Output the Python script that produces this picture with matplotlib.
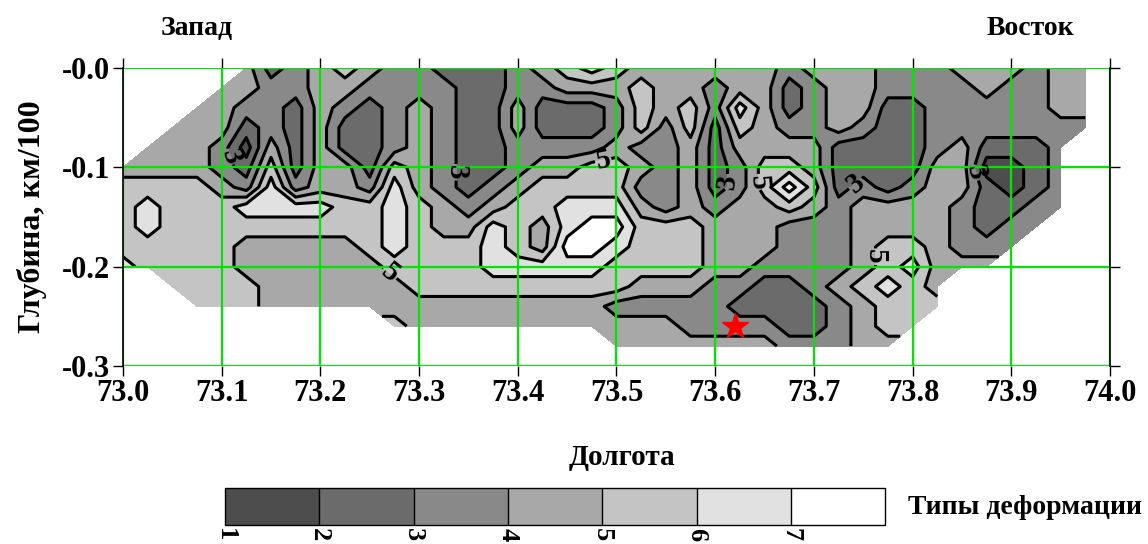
import numpy as np
import matplotlib
matplotlib.use("Agg")
import matplotlib.pyplot as plt

plt.rcParams['font.family'] = ['Liberation Serif', 'DejaVu Serif']
plt.rcParams['font.weight'] = 'bold'
plt.rcParams['axes.labelweight'] = 'bold'

# ---- grid nodes -------------------------------------------------------
lon = np.round(np.arange(73.0, 74.0001, 0.025), 3)      # 41 columns
depth = np.round(np.arange(0.0, -0.3001, -0.02), 3)     # 16 rows

# deformation type at every node ('.' = no data), read off the section
type_rows = [
    ".....42345433222345654444443444333444344.",
    "....443344333322334445443442344333343344.",
    "...4433243234322422235453642344223333344.",
    "..44423242234322422235352543343223333333.",
    ".44431424223432233334334244442222342223..",
    "444432524425432234455434235542222441123..",
    "555543634436432345555334235752323442123..",
    "565556666556543455666434344543444432233..",
    "56555555555654465467755544433344443233...",
    "5555544444565556547765554443334554333....",
    "655554444445555666665555443333456444.....",
    "..55554444445555555554443322345654.......",
    "...5554444444444444433333222234555.......",
    "...........5444444444443333223455........",
    "....................444444433344.........",
    ".........................................",
]

levels = [0.5, 1.5, 2.5, 3.5, 4.5, 5.5, 6.5, 7.5]
plain_levels = [1.5, 3.5, 5.5, 6.5]      # boundaries drawn without labels
labelled_levels = [2.5, 4.5]             # boundaries "3" and "5"
grays = ['#4d4d4d', '#6b6b6b', '#898989', '#a8a8a8', '#c4c4c4', '#e1e1e1', '#ffffff']
cb_ticks = [0.5, 1.5, 2.5, 3.5, 4.5, 5.5, 6.5]
cb_labels = ['1', '2', '3', '4', '5', '6', '7']
line_labels = {2.5: '3', 4.5: '5'}
# where the "3" / "5" line labels sit (lon, depth)
label_spots = [(73.09, -0.095), (73.335, -0.105), (73.49, -0.11), (73.615, -0.115),
               (73.645, -0.115), (73.745, -0.12), (73.865, -0.105), (73.755, -0.19),
               (73.28, -0.195)]

x_ticks = [73.0, 73.1, 73.2, 73.3, 73.4, 73.5, 73.6, 73.7, 73.8, 73.9, 74.0]
x_labels = ['73.0', '73.1', '73.2', '73.3', '73.4', '73.5', '73.6', '73.7', '73.8', '73.9', '74.0']
y_ticks = [0.0, -0.1, -0.2, -0.3]
y_labels = ['-0.0', '-0.1', '-0.2', '-0.3']

star_lon, star_depth = 73.62, -0.26

# ---- table ------------------------------------------------------------
for r in type_rows:
    assert len(r) == len(lon), (len(r), r)
Z = np.array([[np.nan if ch == '.' else float(ch) for ch in row] for row in type_rows])
Z = np.ma.masked_invalid(Z)

# ---- figure -----------------------------------------------------------
fig = plt.figure(figsize=(11.48, 5.44), dpi=100)
ax = fig.add_axes([0.1071, 0.3272, 0.8598, 0.5478])

cf = ax.contourf(lon, depth, Z, levels=levels, colors=grays)
ax.contour(lon, depth, Z, levels=plain_levels, colors='black', linewidths=2.2)
cs = ax.contour(lon, depth, Z, levels=labelled_levels, colors='black', linewidths=2.2)
lbls = ax.clabel(cs, fmt=line_labels, fontsize=21, inline=True,
                 inline_spacing=1, manual=label_spots)
for t in lbls:
    t.set_fontweight('bold')

ax.plot(star_lon, star_depth, marker='*', color='red', markersize=19, zorder=6)

ax.set_xlim(73.0, 74.0)
ax.set_ylim(-0.3, 0.0)
ax.set_xticks(x_ticks)
ax.set_xticklabels(x_labels)
ax.set_yticks(y_ticks)
ax.set_yticklabels(y_labels)
ax.tick_params(direction='out', length=7.5, width=1, top=True, right=True,
               labeltop=False, labelright=False, labelsize=22, pad=2)

ax.set_axisbelow(False)
ax.grid(True, color='#00e600', linewidth=1.6)
for side in ['top', 'bottom']:
    ax.spines[side].set_visible(False)
for side in ['left', 'right']:
    ax.spines[side].set_color('black')
    ax.spines[side].set_linewidth(1.2)
    ax.spines[side].set_zorder(4)

ax.set_ylabel('Глубина, км/100', fontsize=23, fontweight='bold')
ax.yaxis.set_label_coords(-0.077, 0.5)
ax.set_xlabel('Долгота', fontsize=21, fontweight='bold')
ax.xaxis.set_label_coords(0.506, -0.262)

fig.text(0.171, 0.947, 'Запад', ha='center', va='center', fontsize=20)
fig.text(0.898, 0.947, 'Восток', ha='center', va='center', fontsize=20)

# ---- colour key -------------------------------------------------------
cax = fig.add_axes([0.196, 0.035, 0.575, 0.068])
cb = fig.colorbar(cf, cax=cax, orientation='horizontal', drawedges=True, ticks=cb_ticks)
cb.set_ticklabels(cb_labels)
cb.ax.tick_params(length=0, pad=2, labelsize=19, labelrotation=-90)
cb.outline.set_linewidth(1)
cb.dividers.set_linewidth(1)
fig.text(0.893, 0.068, 'Типы деформации', ha='center', va='center', fontsize=20)

fig.savefig('out.png', dpi=100)
